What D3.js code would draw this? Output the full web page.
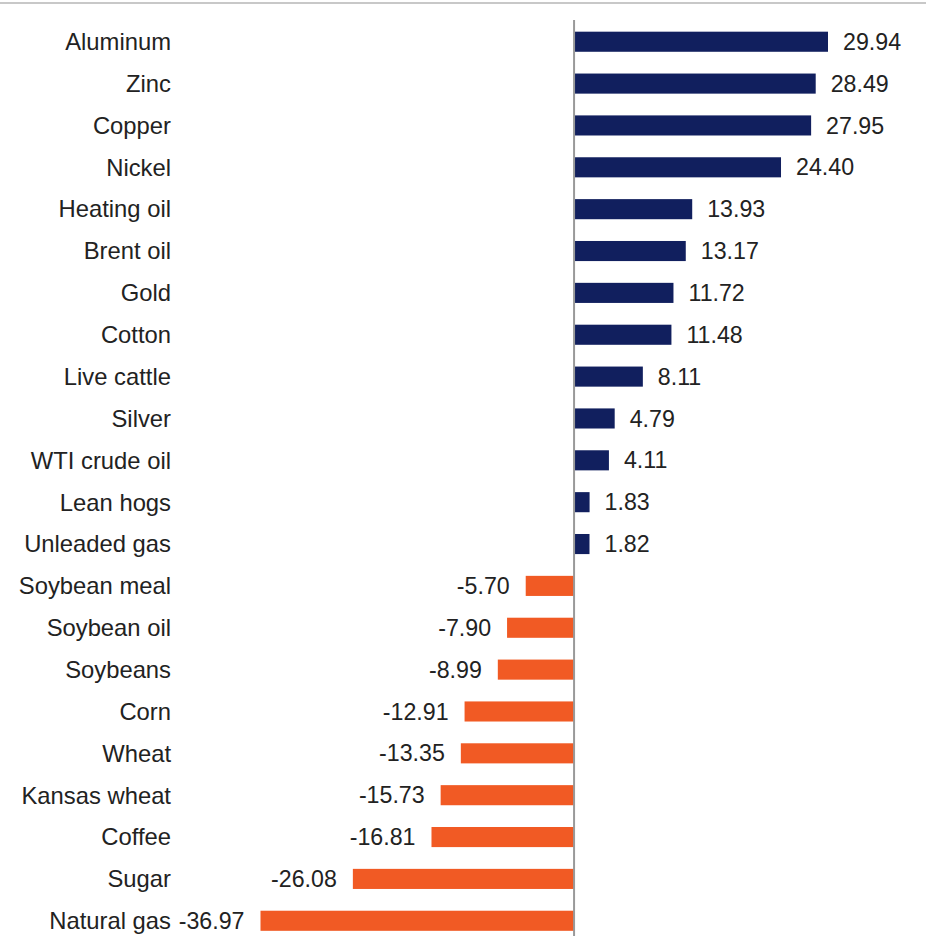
<!DOCTYPE html>
<html>
<head>
<meta charset="utf-8">
<script src="https://cdn.jsdelivr.net/npm/d3@7"></script>
<style>
  body { margin: 0; background: #fff; }
  svg { display: block; font-family: "Liberation Sans", Arial, sans-serif; }
</style>
</head>
<body>
<div id="vis"></div>
<script>
var commodities = ["Aluminum", "Zinc", "Copper", "Nickel", "Heating oil", "Brent oil", "Gold",
  "Cotton", "Live cattle", "Silver", "WTI crude oil", "Lean hogs", "Unleaded gas",
  "Soybean meal", "Soybean oil", "Soybeans", "Corn", "Wheat", "Kansas wheat", "Coffee",
  "Sugar", "Natural gas"];
var returns = [29.94, 28.49, 27.95, 24.40, 13.93, 13.17, 11.72, 11.48, 8.11, 4.79, 4.11, 1.83, 1.82,
  -5.70, -7.90, -8.99, -12.91, -13.35, -15.73, -16.81, -26.08, -36.97];

var data = commodities.map(function (c, i) { return { name: c, value: returns[i] }; });

var width = 926, height = 936;

var svg = d3.select("#vis").append("svg")
  .attr("width", width)
  .attr("height", height);

// top rule
svg.append("line")
  .attr("x1", 0).attr("x2", width)
  .attr("y1", 3).attr("y2", 3)
  .attr("stroke", "#c8c8c8")
  .attr("stroke-width", 2);

var x = d3.scaleLinear()
  .domain([-36.97, 29.94])
  .range([260.5, 828]);

var y = d3.scaleBand()
  .domain(commodities)
  .range([20.8, 941.7])
  .paddingInner(0.52)
  .paddingOuter(0.26);

var navy = "#111f5e", orange = "#f15a24";

svg.append("g")
  .selectAll("rect")
  .data(data)
  .join("rect")
    .attr("x", function (d) { return x(Math.min(0, d.value)); })
    .attr("y", function (d) { return y(d.name); })
    .attr("width", function (d) { return Math.abs(x(d.value) - x(0)); })
    .attr("height", y.bandwidth())
    .attr("fill", function (d) { return d.value < 0 ? orange : navy; });

// zero axis
svg.append("line")
  .attr("x1", x(0)).attr("x2", x(0))
  .attr("y1", 20).attr("y2", height)
  .attr("stroke", "#999")
  .attr("stroke-width", 2);

// category labels
svg.append("g")
  .selectAll("text")
  .data(data)
  .join("text")
    .attr("x", 171)
    .attr("y", function (d) { return y(d.name) + y.bandwidth() / 2; })
    .attr("dy", "0.35em")
    .attr("text-anchor", "end")
    .attr("font-size", 23.8)
    .attr("fill", "#222")
    .text(function (d) { return d.name; });

// value labels (plain hyphen for negatives, as in the source)
var fmt = function (v) { return v.toFixed(2); };
svg.append("g")
  .selectAll("text")
  .data(data)
  .join("text")
    .attr("x", function (d) { return d.value < 0 ? x(d.value) - 16 : x(d.value) + 15; })
    .attr("y", function (d) { return y(d.name) + y.bandwidth() / 2; })
    .attr("dy", "0.35em")
    .attr("text-anchor", function (d) { return d.value < 0 ? "end" : "start"; })
    .attr("font-size", 23.2)
    .attr("fill", "#222")
    .text(function (d) { return fmt(d.value); });
</script>
</body>
</html>
